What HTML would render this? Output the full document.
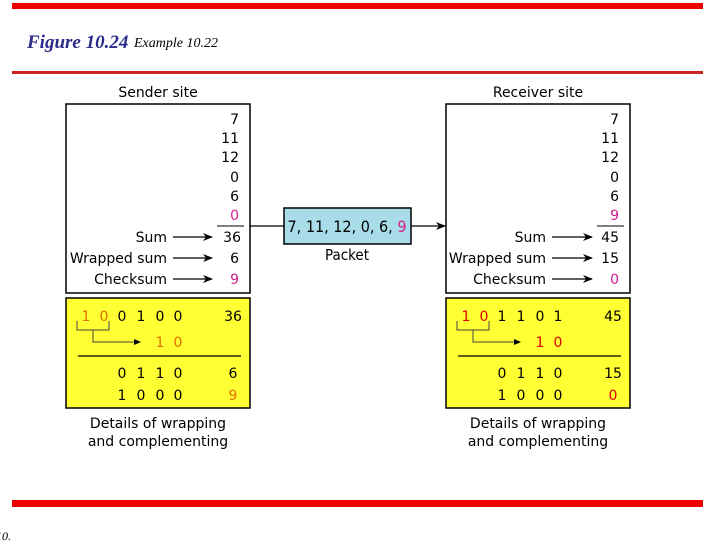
<!DOCTYPE html>
<html><head><meta charset="utf-8"><style>
html,body{margin:0;padding:0;background:#fff;}
svg{display:block;}
text{font-family:"DejaVu Sans","Liberation Sans",sans-serif;font-size:14px;}
.s{font-family:"DejaVu Sans Condensed","DejaVu Sans",sans-serif;}
.y{font-size:15.5px;}
</style></head><body>
<svg width="720" height="540" viewBox="0 0 720 540" xmlns="http://www.w3.org/2000/svg">
<defs>
<marker id="a" markerWidth="10" markerHeight="8" refX="9" refY="4" orient="auto" markerUnits="userSpaceOnUse"><path d="M0,0 L10,4 L0,8 L3,4 z" fill="#000"/></marker>
<marker id="b" markerWidth="7" markerHeight="6" refX="6" refY="3" orient="auto" markerUnits="userSpaceOnUse"><path d="M0,0 L7,3 L0,6 z" fill="#000"/></marker>
</defs>
<rect x="12" y="3" width="691" height="6" fill="#ee0000"/>
<rect x="12" y="71" width="691" height="3" fill="#cc2222"/>
<rect x="12" y="500" width="691" height="7" fill="#ee0000"/>
<text x="27" y="48" style="font-family:'Liberation Serif',serif;font-style:italic;font-weight:bold;font-size:19px" fill="#2b2b8a">Figure 10.24</text>
<text x="134" y="47" style="font-family:'Liberation Serif',serif;font-style:italic;font-size:14px" fill="#000">Example 10.22</text>
<text x="-4" y="540" style="font-family:'Liberation Serif',serif;font-style:italic;font-size:12px">10.</text>

<g class="s">
<text x="158" y="97" text-anchor="middle">Sender site</text>
<text x="538" y="97" text-anchor="middle">Receiver site</text>
</g>
<rect x="66" y="104" width="184" height="189" fill="#fff" stroke="#000" stroke-width="1.5"/>
<rect x="446" y="104" width="184" height="189" fill="#fff" stroke="#000" stroke-width="1.5"/>
<rect x="66" y="298" width="184" height="110" fill="#ffff33" stroke="#000" stroke-width="1.5"/>
<rect x="446" y="298" width="184" height="110" fill="#ffff33" stroke="#000" stroke-width="1.5"/>

<g class="s" text-anchor="end">
<text x="239" y="124">7</text><text x="239" y="143">11</text><text x="239" y="162">12</text>
<text x="239" y="182">0</text><text x="239" y="201">6</text><text x="239" y="220" fill="#d02090">0</text>
<text x="241" y="242">36</text><text x="239" y="263">6</text><text x="239" y="284" fill="#d02090">9</text>
<text x="167" y="242">Sum</text><text x="167" y="263">Wrapped sum</text><text x="167" y="284">Checksum</text>
</g>
<line x1="217" y1="226" x2="244" y2="226" stroke="#000"/>
<g stroke="#000" stroke-width="1.2" marker-end="url(#a)">
<line x1="173" y1="237" x2="212" y2="237"/><line x1="173" y1="258" x2="212" y2="258"/><line x1="173" y1="279" x2="212" y2="279"/>
</g>
<g class="s" text-anchor="end">
<text x="619" y="124">7</text><text x="619" y="143">11</text><text x="619" y="162">12</text>
<text x="619" y="182">0</text><text x="619" y="201">6</text><text x="619" y="220" fill="#d02090">9</text>
<text x="619" y="242">45</text><text x="619" y="263">15</text><text x="619" y="284" fill="#d02090">0</text>
<text x="546" y="242">Sum</text><text x="546" y="263">Wrapped sum</text><text x="546" y="284">Checksum</text>
</g>
<line x1="597" y1="226" x2="624" y2="226" stroke="#000"/>
<g stroke="#000" stroke-width="1.2" marker-end="url(#a)">
<line x1="552" y1="237" x2="592" y2="237"/><line x1="552" y1="258" x2="592" y2="258"/><line x1="552" y1="279" x2="592" y2="279"/>
</g>

<line x1="250" y1="226" x2="284" y2="226" stroke="#000" stroke-width="1.2"/>
<line x1="411" y1="226" x2="445" y2="226" stroke="#000" stroke-width="1.2" marker-end="url(#a)"/>
<rect x="284" y="208" width="127" height="36" fill="#a8dce8" stroke="#000" stroke-width="1.5"/>
<text class="s" x="347" y="232" text-anchor="middle" style="font-size:16px">7, 11, 12, 0, 6, <tspan fill="#d02090">9</tspan></text>
<text class="s" x="347" y="260" text-anchor="middle" style="font-size:15px">Packet</text>

<g class="s y" text-anchor="middle">
<text x="86" y="321" fill="#e07000">1</text><text x="104" y="321" fill="#e07000">0</text>
<text x="122" y="321">0</text><text x="141" y="321">1</text><text x="160" y="321">0</text><text x="178" y="321">0</text>
<text x="233" y="321">36</text>
<text x="160" y="347" fill="#e07000">1</text><text x="178" y="347" fill="#e07000">0</text>
<text x="122" y="378">0</text><text x="141" y="378">1</text><text x="160" y="378">1</text><text x="178" y="378">0</text>
<text x="122" y="400">1</text><text x="141" y="400">0</text><text x="160" y="400">0</text><text x="178" y="400">0</text>
<text x="233" y="378">6</text><text x="233" y="400" fill="#e07000">9</text>
</g>
<path d="M77,321 V330 H109 V321 M93,330 V342 H140" fill="none" stroke="#444" stroke-width="1" marker-end="url(#b)"/>
<line x1="78" y1="356" x2="241" y2="356" stroke="#000" stroke-width="1.2"/>

<g class="s y" text-anchor="middle">
<text x="466" y="321" fill="#e00000">1</text><text x="484" y="321" fill="#e00000">0</text>
<text x="502" y="321">1</text><text x="521" y="321">1</text><text x="540" y="321">0</text><text x="558" y="321">1</text>
<text x="613" y="321">45</text>
<text x="540" y="347" fill="#e00000">1</text><text x="558" y="347" fill="#e00000">0</text>
<text x="502" y="378">0</text><text x="521" y="378">1</text><text x="540" y="378">1</text><text x="558" y="378">0</text>
<text x="502" y="400">1</text><text x="521" y="400">0</text><text x="540" y="400">0</text><text x="558" y="400">0</text>
<text x="613" y="378">15</text><text x="613" y="400" fill="#e00000">0</text>
</g>
<path d="M457,321 V330 H489 V321 M473,330 V342 H520" fill="none" stroke="#444" stroke-width="1" marker-end="url(#b)"/>
<line x1="458" y1="356" x2="621" y2="356" stroke="#000" stroke-width="1.2"/>

<g class="s" text-anchor="middle" style="font-size:15px">
<text x="158" y="428">Details of wrapping</text><text x="158" y="446">and complementing</text>
<text x="538" y="428">Details of wrapping</text><text x="538" y="446">and complementing</text>
</g>
</svg>
</body></html>
